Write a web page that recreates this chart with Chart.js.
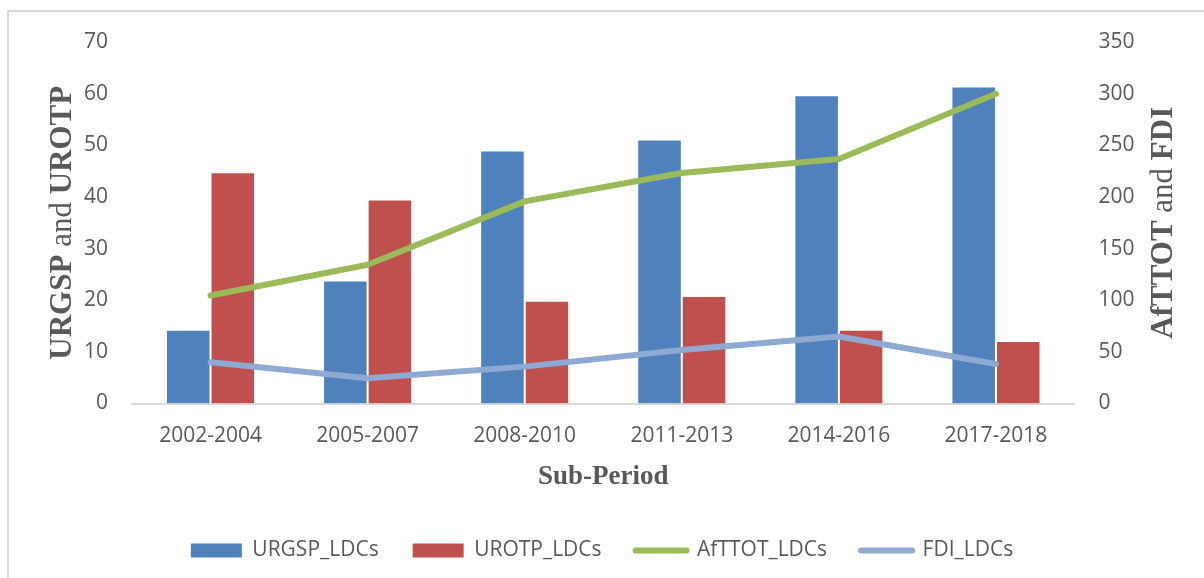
<!DOCTYPE html>
<html lang="en">
<head>
    <meta charset="UTF-8">
    <title>URGSP, UROTP, AfTTOT and FDI by sub-period</title>
    <script src="https://cdn.jsdelivr.net/npm/chart.js"></script>
    <style>
        html, body { margin: 0; padding: 0; background: #fff; }
        #frame {
            position: absolute; left: 7px; top: 10px; right: -4px; bottom: -4px;
            border-left: 2px solid #d9d9d9; border-top: 2px solid #d9d9d9;
        }
        #wrap { position: absolute; left: 0; top: 0; width: 1204px; height: 578px; }
    </style>
</head>
<body>
    <div id="frame"></div>
    <div id="wrap">
        <canvas id="myChart" width="1204" height="578"></canvas>
    </div>

    <script>
        const periods = ['2002-2004', '2005-2007', '2008-2010', '2011-2013', '2014-2016', '2017-2018'];
        const urgsp = [14.3, 23.8, 49.0, 51.1, 59.7, 61.4];
        const urotp = [44.8, 39.5, 19.9, 20.8, 14.3, 12.1];
        const afttot = [104.5, 134.3, 195.7, 223.2, 236.8, 299.8];
        const fdi = [39.9, 24.4, 35.7, 51.9, 64.8, 38.3];

        const grey = '#595959';
        const tickFont = { family: 'Open Sans', size: 21 };

        // axis titles: "and" is not bold in the original
        const axisTitles = {
            id: 'axisTitles',
            afterDraw(chart) {
                const ctx = chart.ctx;
                const area = chart.chartArea;
                const midY = (area.top + area.bottom) / 2;
                const bold = 'bold 31px "Liberation Serif"';
                const plain = '31px "Liberation Serif"';

                function vertical(parts, x) {
                    ctx.save();
                    ctx.translate(x, midY);
                    ctx.rotate(-Math.PI / 2);
                    ctx.fillStyle = grey;
                    ctx.textBaseline = 'alphabetic';
                    ctx.textAlign = 'left';
                    let total = 0;
                    parts.forEach(p => { ctx.font = p[1]; total += ctx.measureText(p[0]).width; });
                    let cx = -total / 2;
                    parts.forEach(p => {
                        ctx.font = p[1];
                        ctx.fillText(p[0], cx, 0);
                        cx += ctx.measureText(p[0]).width;
                    });
                    ctx.restore();
                }

                vertical([['URGSP ', bold], ['and', plain], [' UROTP', bold]], area.left - 61);
                vertical([['AfTTOT ', bold], ['and', plain], [' FDI', bold]], area.right + 97);

                ctx.save();
                ctx.font = 'bold 27px "Liberation Serif"';
                ctx.fillStyle = grey;
                ctx.textAlign = 'center';
                ctx.textBaseline = 'middle';
                ctx.fillText('Sub-Period', (area.left + area.right) / 2, area.bottom + 74);
                ctx.restore();
            }
        };

        const ctx = document.getElementById('myChart').getContext('2d');
        new Chart(ctx, {
            type: 'bar',
            data: {
                labels: periods,
                datasets: [
                    {
                        label: 'URGSP_LDCs',
                        data: urgsp,
                        backgroundColor: '#4F81BD',
                        borderColor: 'rgba(255,255,255,0.3)',
                        borderWidth: 1,
                        yAxisID: 'y',
                        order: 2
                    },
                    {
                        label: 'UROTP_LDCs',
                        data: urotp,
                        backgroundColor: '#C0504D',
                        borderColor: 'rgba(255,255,255,0.3)',
                        borderWidth: 1,
                        yAxisID: 'y',
                        order: 2
                    },
                    {
                        type: 'line',
                        label: 'AfTTOT_LDCs',
                        data: afttot,
                        borderColor: '#9BBB59',
                        backgroundColor: '#9BBB59',
                        borderWidth: 6,
                        borderCapStyle: 'round',
                        borderJoinStyle: 'round',
                        pointRadius: 0,
                        yAxisID: 'y1',
                        order: 1
                    },
                    {
                        type: 'line',
                        label: 'FDI_LDCs',
                        data: fdi,
                        borderColor: '#8EA9D2',
                        backgroundColor: '#8EA9D2',
                        borderWidth: 6,
                        borderCapStyle: 'round',
                        borderJoinStyle: 'round',
                        pointRadius: 0,
                        yAxisID: 'y1',
                        order: 1
                    }
                ]
            },
            options: {
                responsive: false,
                animation: false,
                layout: { padding: { top: 42, bottom: 7, left: 0, right: 0 } },
                datasets: {
                    bar: { categoryPercentage: 0.567, barPercentage: 1 }
                },
                plugins: {
                    tooltip: { enabled: false },
                    legend: {
                        position: 'bottom',
                        labels: {
                            usePointStyle: true,
                            pointStyleWidth: 51,
                            boxHeight: 14,
                            padding: 34,
                            color: grey,
                            font: { family: 'Open Sans', size: 21 },
                            sort: (a, b) => a.datasetIndex - b.datasetIndex,
                            generateLabels(chart) {
                                const items = Chart.defaults.plugins.legend.labels.generateLabels(chart);
                                items.forEach(it => {
                                    const ds = chart.data.datasets[it.datasetIndex];
                                    if (ds.type === 'line') {
                                        it.pointStyle = 'line';
                                        it.lineWidth = 6;
                                        it.lineCap = 'round';
                                    } else {
                                        it.pointStyle = 'rect';
                                        it.lineWidth = 0;
                                        it.strokeStyle = ds.backgroundColor;
                                    }
                                });
                                return items;
                            }
                        }
                    }
                },
                scales: {
                    x: {
                        grid: { display: false, drawTicks: false },
                        border: { display: true, color: '#d9d9d9', width: 2 },
                        ticks: { color: grey, font: tickFont, padding: 20, maxRotation: 0 },
                        afterFit(scale) {
                            const leg = scale.chart.legend;
                            scale.height = scale.chart.height - 403.5 - leg.height - 7;
                        }
                    },
                    y: {
                        position: 'left',
                        min: 0,
                        max: 70,
                        grid: { display: false, drawTicks: false },
                        border: { display: false },
                        ticks: { stepSize: 10, color: grey, font: tickFont, padding: 24 },
                        afterFit(scale) { scale.width = 132; }
                    },
                    y1: {
                        position: 'right',
                        min: 0,
                        max: 350,
                        grid: { display: false, drawTicks: false },
                        border: { display: false },
                        ticks: { stepSize: 50, color: grey, font: tickFont, padding: 24 },
                        afterFit(scale) { scale.width = 129.5; }
                    }
                }
            },
            plugins: [axisTitles]
        });
    </script>
</body>
</html>
